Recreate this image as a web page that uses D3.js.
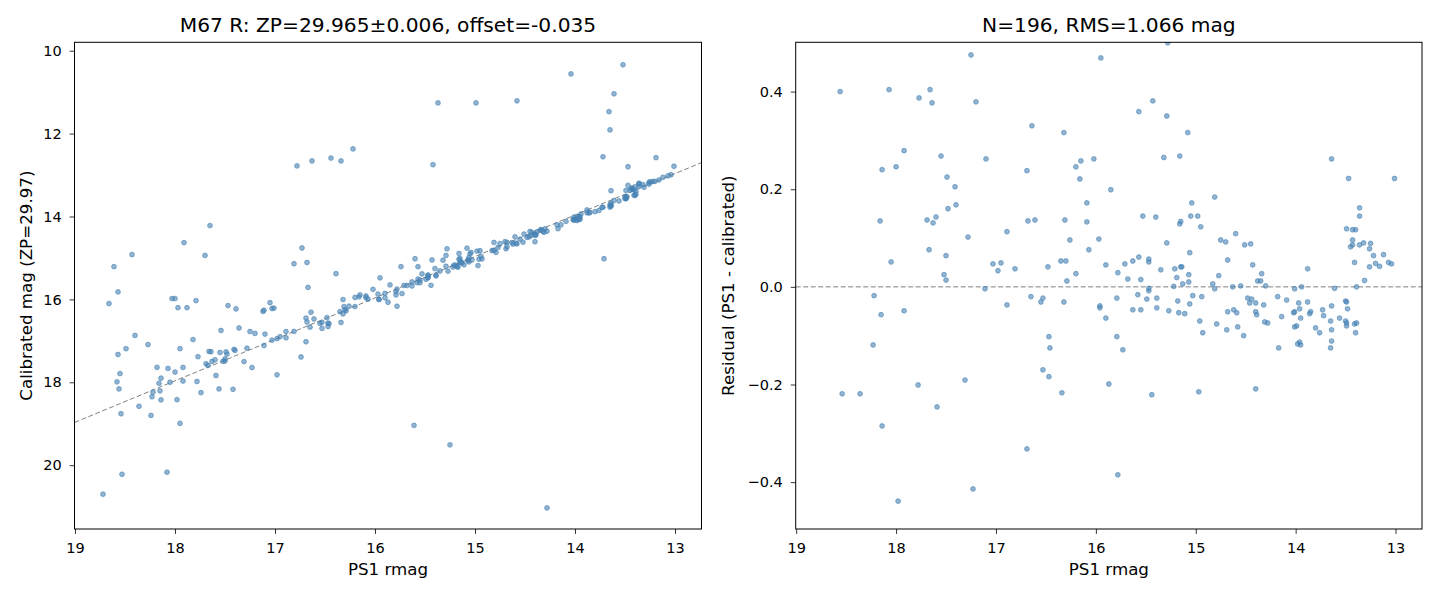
<!DOCTYPE html>
<html>
<head>
<meta charset="utf-8">
<script src="https://cdn.jsdelivr.net/npm/d3@7"></script>
<style>
  body { margin: 0; background: #ffffff; }
  text { font-family: "DejaVu Sans", sans-serif; fill: #000000; }
</style>
</head>
<body>
<div id="chart"></div>
<script>
///////////////////////////////////////////////////////////////////////////////////////////////////
// Data: PS1 rmag and residual (PS1 - calibrated) per star.
// Calibrated mag in the left panel is psMag - resid.

var titleLeft  = "M67 R: ZP=29.965\u00b10.006, offset=-0.035";
var titleRight = "N=196, RMS=1.066 mag";
var zpOffset = -0.035;

var xTicks      = [19, 18, 17, 16, 15, 14, 13];
var yTicksLeft  = [10, 12, 14, 16, 18, 20];
var yTicksRight = [-0.4, -0.2, 0.0, 0.2, 0.4];

var psMag = [
    18.56, 18.07, 17.66, 17.77, 17.64, 17.25, 17.20, 15.95, 16.64, 16.32,
    17.92, 18.14, 18.00, 17.55, 17.10, 17.49, 17.41, 17.48, 17.40, 16.69,
    16.15, 16.20, 16.02, 16.16, 15.85, 16.09, 18.16, 17.69, 17.60, 17.63,
    16.68, 16.61, 16.31, 16.09, 16.89, 17.28, 16.26, 15.97, 16.07, 17.67,
    17.50, 18.05, 17.03, 16.95, 16.98, 16.81, 16.48, 16.35, 16.30, 16.20,
    16.29, 15.90, 17.52, 17.50, 17.11, 18.22, 18.15, 17.92, 18.23, 18.54,
    18.36, 18.14, 17.98, 17.78, 17.59, 17.31, 17.23, 16.89, 16.65, 16.53,
    16.55, 16.32, 16.47, 16.46, 16.53, 16.47, 16.34, 16.69, 15.96, 15.96,
    15.90, 15.87,
    15.28, 15.43, 15.57, 15.29, 15.08, 15.32, 15.16, 14.81, 15.04, 15.53,
    15.40, 15.05, 14.98, 15.15, 15.16, 14.95, 14.60, 14.75, 14.70, 14.51,
    14.45, 15.29, 15.06, 14.68, 14.43, 14.34, 14.38, 14.35, 14.30, 14.77,
    14.83, 14.63, 14.55, 14.81, 15.78, 15.71, 15.68, 15.63, 15.57, 15.55,
    15.47, 15.47, 15.47, 15.35, 15.21, 15.19, 15.15, 15.14, 15.07, 15.07,
    15.13, 15.22, 13.88, 13.94, 14.01, 13.61, 13.64, 13.47, 13.01, 13.36,
    13.36, 13.49, 13.43, 13.40, 13.43, 13.45, 13.43, 13.36, 13.32, 13.25,
    13.26, 13.41, 13.22, 13.12, 13.20, 13.16, 13.26, 13.07, 13.04, 13.31,
    13.39,
    15.79, 15.79, 15.73, 15.78, 15.44, 14.97, 14.40, 15.58, 15.63, 15.55,
    15.49, 15.47, 15.39, 15.39, 15.27, 15.18, 15.17, 15.11, 15.06, 15.03,
    14.96, 14.94, 14.93, 14.79, 14.69, 14.68, 14.62, 14.59, 14.58, 14.52,
    14.48, 14.44, 14.46, 14.40, 14.40, 14.39, 14.32, 14.31, 14.28, 14.18,
    14.14, 14.17, 14.09, 14.02, 14.01, 14.01, 13.99, 13.97, 13.96, 13.95,
    13.98, 13.96, 13.95, 13.88, 13.86, 13.85, 13.80, 13.76, 13.73, 13.72,
    13.65, 13.64, 13.64, 13.64, 13.65, 13.56, 13.50, 13.49, 13.48, 13.50,
    13.49, 13.49, 13.41, 13.39, 13.40,
    16.78, 16.63, 16.44, 16.34, 16.22, 17.65, 17.91, 18.43, 17.70, 18.61,
    16.73, 16.81, 16.68, 16.39, 16.67, 18.57, 18.66, 18.03, 18.00, 17.97,
    17.88, 17.79, 17.47, 17.39, 17.12, 17.11, 17.05, 17.03, 17.01, 18.40,
    18.27, 18.49, 18.57, 18.55, 18.58, 18.24, 18.18, 17.95, 17.95, 17.82,
    17.74, 17.56, 17.54, 17.42, 17.36, 16.98, 16.74, 18.53, 18.72, 18.08,
    15.37, 14.99, 14.58, 14.04, 13.52, 13.61, 13.66, 13.65, 15.42, 13.72,
    13.19, 13.47, 13.71, 15.74, 15.60, 15.61, 15.25, 14.28
];

var resid = [
    0.400, 0.404, 0.404, 0.387, 0.377, 0.475, 0.379, 0.469, 0.330, 0.316,
    0.279, 0.240, 0.246, 0.268, 0.262, 0.225, 0.205, 0.160, 0.168, 0.238,
    0.258, 0.246, 0.262, 0.221, 0.199, 0.172, 0.135, 0.137, 0.143, 0.131,
    0.135, 0.137, 0.137, 0.133, 0.113, 0.102, 0.096, 0.098, 0.076, 0.076,
    0.064, 0.051, 0.047, 0.049, 0.033, 0.037, 0.041, 0.053, 0.053, 0.027,
    0.012, 0.045, 0.025, 0.014, -0.004, -0.018, -0.057, -0.049, -0.119, -0.219,
    -0.219, -0.285, -0.439, -0.201, -0.246, -0.191, -0.414, -0.037, -0.020, -0.023,
    -0.031, -0.031, -0.102, -0.125, -0.170, -0.184, -0.217, -0.332, -0.039, -0.043,
    -0.064, -0.199,
    0.500, 0.381, 0.359, 0.350, 0.316, 0.265, 0.268, 0.184, 0.172, 0.145,
    0.143, 0.145, 0.145, 0.134, 0.129, 0.123, 0.109, 0.096, 0.092, 0.086,
    0.088, 0.090, 0.070, 0.055, 0.045, 0.027, 0.012, 0.012, 0.002, 0.023,
    0.006, 0.000, 0.002, -0.004, 0.029, 0.047, 0.016, 0.053, 0.061, 0.015,
    0.057, 0.051, -0.003, 0.035, 0.037, 0.019, 0.041, 0.041, 0.025, 0.010,
    0.006, 0.001, 0.037, 0.000, -0.004, -0.003, 0.262, 0.222, 0.222, 0.162,
    0.145, 0.119, 0.117, 0.117, 0.096, 0.082, 0.086, 0.086, 0.090, 0.089,
    0.078, 0.050, 0.064, 0.066, 0.048, 0.042, 0.041, 0.050, 0.047, 0.013,
    0.000,
    -0.023, -0.102, -0.129, -0.385, -0.221, -0.215, -0.209, -0.016, -0.047, -0.047,
    -0.025, -0.008, -0.023, -0.043, -0.049, -0.029, -0.053, -0.055, -0.035, -0.018,
    -0.070, -0.020, -0.094, -0.076, -0.088, -0.051, -0.047, -0.053, -0.082, -0.100,
    -0.023, -0.025, -0.033, -0.033, -0.051, -0.057, -0.037, -0.072, -0.074, -0.020,
    -0.061, -0.125, -0.027, -0.053, -0.051, -0.082, -0.080, -0.033, -0.045, -0.064,
    -0.117, -0.113, -0.119, -0.031, -0.055, -0.051, -0.084, -0.094, -0.047, -0.059,
    -0.070, -0.088, -0.039, -0.111, -0.125, -0.064, -0.029, -0.031, -0.045, -0.070,
    -0.074, -0.080, -0.076, -0.074, -0.094,
    4.00, 3.97, 3.85, 3.68, 3.85, 3.43, 3.28, 3.51, 2.76, 3.40,
    1.97, 1.67, 1.57, 1.01, 0.96, 2.75, 2.56, 2.05, 2.02, 1.77,
    1.68, 1.76, 1.32, 1.16, 0.83, 0.85, 0.97, 0.81, 0.80, 1.53,
    1.18, 1.30, 1.24, 0.76, 0.59, -0.56, 0.54, 0.76, -1.04, 0.85,
    -0.51, -0.60, 0.79, -0.75, 0.67, -0.84, -0.65, -1.69, -1.98, -2.09,
    4.11, 3.73, 3.37, 3.48, 3.18, 2.57, 2.19, 1.74, 2.67, 1.16,
    0.61, 0.67, -1.31, 0.53, 0.58, -3.43, -4.26, -6.75
];

///////////////////////////////////////////////////////////////////////////////////////////////////

var svg_width = 1440, svg_height = 600;
var dot_color = "steelblue";

var svg = d3.select("#chart")
  .append("svg")
    .attr("width", svg_width)
    .attr("height", svg_height);

var stars = psMag.map(function(m, i) { return { mag: m, res: resid[i] }; });

function style_axis(g) {
    g.select(".domain").remove();
    g.selectAll(".tick line").attr("stroke", "#000").attr("stroke-width", 0.8);
    g.selectAll(".tick text")
        .style("font-family", "'DejaVu Sans', sans-serif")
        .style("font-size", "14.5px")
        .attr("fill", "#000");
} // end function

function minus_fmt(d) {
    return d3.format(".1f")(d).replace("-", "\u2212");
} // end function

function draw_panel(p) {
    //////////////////////////////////////////////////////////////////////
    //
    // One axes box: clip, reference line, dots, ticks, labels, frame.
    //
    //////////////////////////////////////////////////////////////////////
    var x = d3.scaleLinear().domain([19.005, 12.735]).range([p.left, p.right]);
    var y = d3.scaleLinear().domain(p.ydomain).range([p.bottom, p.top]);

    svg.append("clipPath")
        .attr("id", p.id + "_clip")
      .append("rect")
        .attr("x", p.left)
        .attr("y", p.top)
        .attr("width", p.right - p.left)
        .attr("height", p.bottom - p.top);

    var g = svg.append("g").attr("clip-path", "url(#" + p.id + "_clip)");

    // dashed reference line
    g.append("line")
        .attr("x1", x(x.domain()[0]))
        .attr("y1", y(p.line(x.domain()[0])))
        .attr("x2", x(x.domain()[1]))
        .attr("y2", y(p.line(x.domain()[1])))
        .attr("stroke", "#808080")
        .attr("stroke-width", 1)
        .attr("stroke-dasharray", "5,2.5");

    g.selectAll(".dot")
        .data(stars)
        .join("circle")
            .attr("class", "dot")
            .attr("cx", function(d) { return x(d.mag); })
            .attr("cy", function(d) { return y(p.yval(d)); })
            .attr("r", 2.4)
            .attr("fill", dot_color)
            .attr("fill-opacity", 0.6)
            .attr("stroke", dot_color)
            .attr("stroke-opacity", 0.6)
            .attr("stroke-width", 1);

    svg.append("g")
        .attr("transform", "translate(0," + p.bottom + ")")
        .call(d3.axisBottom(x).tickValues(xTicks).tickFormat(d3.format("d"))
            .tickSize(4.9).tickPadding(9.2))
        .call(style_axis);

    svg.append("g")
        .attr("transform", "translate(" + p.left + ",0)")
        .call(d3.axisLeft(y).tickValues(p.yticks).tickFormat(p.yfmt)
            .tickSize(4.9).tickPadding(8))
        .call(style_axis);

    // frame
    svg.append("rect")
        .attr("x", p.left)
        .attr("y", p.top)
        .attr("width", p.right - p.left)
        .attr("height", p.bottom - p.top)
        .attr("fill", "none")
        .attr("stroke", "#000")
        .attr("stroke-width", 1);

    svg.append("text")
        .attr("x", (p.left + p.right) / 2)
        .attr("y", 32.3)
        .attr("text-anchor", "middle")
        .style("font-size", "20.2px")
        .text(p.title);

    svg.append("text")
        .attr("x", (p.left + p.right) / 2)
        .attr("y", 575)
        .attr("text-anchor", "middle")
        .style("font-size", "16.7px")
        .text("PS1 rmag");

    svg.append("text")
        .attr("transform", "translate(" + p.ylabel_x + "," + ((p.top + p.bottom) / 2) + ") rotate(-90)")
        .attr("text-anchor", "middle")
        .style("font-size", "16.7px")
        .text(p.ylabel);
} // end function

///////////////////////////////////////////////////////////////////////////////////////////////////

draw_panel({
    id: "left", left: 74.5, right: 701.5, top: 42.3, bottom: 529,
    ydomain: [21.54, 9.797],
    yticks: yTicksLeft, yfmt: d3.format("d"),
    yval: function(d) { return d.mag - d.res; },
    line: function(m) { return m + zpOffset; },
    title: titleLeft,
    ylabel: "Calibrated mag (ZP=29.97)", ylabel_x: 32
});

draw_panel({
    id: "right", left: 795.7, right: 1422, top: 42.3, bottom: 529,
    ydomain: [-0.496, 0.501],
    yticks: yTicksRight, yfmt: minus_fmt,
    yval: function(d) { return d.res; },
    line: function(m) { return 0; },
    title: titleRight,
    ylabel: "Residual (PS1 - calibrated)", ylabel_x: 734
});
</script>
</body>
</html>
